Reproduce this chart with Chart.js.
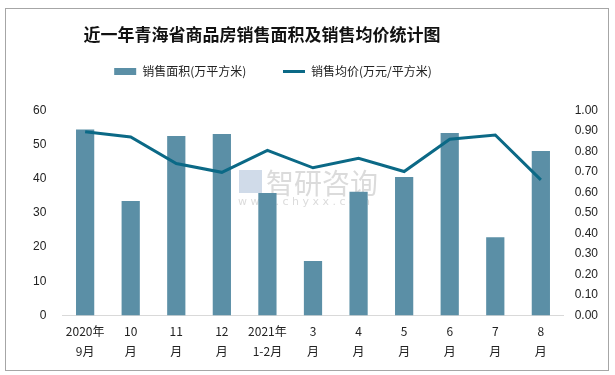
<!DOCTYPE html>
<html><head><meta charset="utf-8">
<script src="https://cdn.jsdelivr.net/npm/chart.js@4/dist/chart.umd.min.js"></script>
<style>html,body{margin:0;padding:0;background:#fff}#wrap{width:615px;height:375px;position:relative}</style>
</head><body><div id="wrap"><canvas id="c" width="615" height="375"></canvas></div>
<script>
const categories = [["2020年","9月"],["10","月"],["11","月"],["12","月"],["2021年","1-2月"],["3","月"],["4","月"],["5","月"],["6","月"],["7","月"],["8","月"]];
const salesArea = [54.4, 33.5, 52.5, 53.1, 35.8, 15.9, 36.2, 40.5, 53.4, 22.9, 48.1];
const avgPrice = [0.896, 0.870, 0.741, 0.698, 0.805, 0.720, 0.766, 0.702, 0.859, 0.880, 0.661];
const seriesNames = ["销售面积(万平方米)", "销售均价(万元/平方米)"];
const titleText = "近一年青海省商品房销售面积及销售均价统计图";

const frame = {
  id: 'frame',
  beforeInit(chart) {
    const lg = chart.legend;
    if (lg) {
      const fit = lg.fit;
      lg.fit = function () { fit.call(this); this.height += 23; };
    }
  },
  afterLayout(chart) {
    if (chart.titleBlock) chart.titleBlock.right -= 102;
    if (chart.legend) chart.legend.right -= 80;
  },
  beforeDraw(chart) {
    const ctx = chart.ctx;
    ctx.save();
    ctx.fillStyle = '#fff';
    ctx.fillRect(0, 0, chart.width, chart.height);
    ctx.strokeStyle = '#a6a6a6';
    ctx.lineWidth = 1;
    ctx.strokeRect(5.5, 8.5, 603, 362);
    // watermark
    ctx.fillStyle = 'rgba(190,190,190,0.55)';
    ctx.font = '28px "Noto Sans CJK SC"';
    ctx.textBaseline = 'middle';
    ctx.fillText('智研咨询', 266, 183);
    ctx.font = '11px "DejaVu Sans"';
    ctx.fillText('w w w . c h y x x . c o m', 238, 202);
    ctx.fillStyle = 'rgba(170,190,215,0.55)';
    ctx.fillRect(239, 170, 23, 23);
    ctx.restore();
  }
};

new Chart(document.getElementById('c'), {
  data: {
    labels: categories,
    datasets: [
      { type: 'line', label: seriesNames[1], data: avgPrice, yAxisID: 'y1',
        borderColor: '#0b6986', backgroundColor: '#0b6986', borderWidth: 3,
        pointRadius: 0, tension: 0, pointStyle: 'line', order: 0 },
      { type: 'bar', label: seriesNames[0], data: salesArea, yAxisID: 'y',
        backgroundColor: '#5b8fa6', borderWidth: 0, pointStyle: 'rect',
        barPercentage: 0.4, categoryPercentage: 1, order: 1 }
    ]
  },
  options: {
    responsive: false, animation: false,
    layout: { padding: { left: 17, right: 6, top: 10, bottom: 8 } },
    plugins: {
      title: { display: true, text: titleText, color: '#111',
        font: { family: '"Noto Sans CJK SC"', size: 17, weight: 'bold' }, padding: { top: 14, bottom: 11 } },
      legend: { display: true, reverse: true,
        labels: { usePointStyle: true, pointStyleWidth: 22, boxHeight: 7, color: '#222', padding: 10,
          font: { family: '"Noto Sans CJK SC"', size: 12 },
          generateLabels(chart) {
            const items = Chart.defaults.plugins.legend.labels.generateLabels(chart);
            items.forEach(it => { if (it.datasetIndex === 1) it.text = it.text + '\u3000\u3000 '; });
            return items;
          } } },
      tooltip: { enabled: false }
    },
    scales: {
      x: { grid: { display: false, drawTicks: false }, border: { display: true, color: '#d9d9d9' },
        ticks: { color: '#222', maxRotation: 0, autoSkip: false, padding: 6,
          font: { family: '"Noto Sans CJK SC"', size: 12, lineHeight: 1.65 } } },
      y: { position: 'left', min: 0, max: 60, grid: { display: false, drawTicks: false }, border: { display: false },
        ticks: { stepSize: 10, color: '#222', padding: 16, font: { family: '"Liberation Sans"', size: 12 } } },
      y1: { position: 'right', min: 0, max: 1, grid: { display: false, drawTicks: false }, border: { display: false },
        ticks: { stepSize: 0.1, color: '#222', padding: 11, callback: v => Number(v).toFixed(2),
          font: { family: '"Liberation Sans"', size: 12 } } }
    }
  },
  plugins: [frame]
});
</script></body></html>
